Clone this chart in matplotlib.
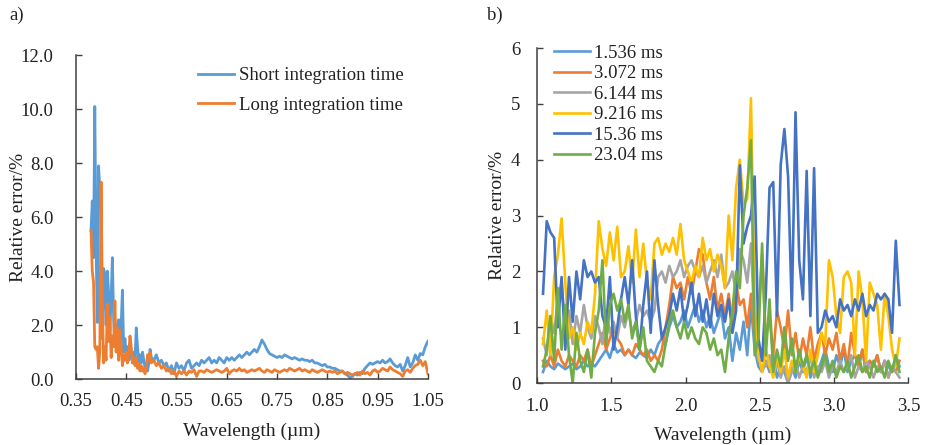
import numpy as np
import matplotlib
matplotlib.use("Agg")
import matplotlib.pyplot as plt

plt.rcParams["font.family"] = ["Liberation Serif", "DejaVu Serif"]
plt.rcParams["font.size"] = 13.5

# ---- panel a: short vs long integration time (VNIR) ----
wl_a = np.concatenate([np.linspace(0.38, 0.50, 49), np.linspace(0.505, 1.05, 110)])

short_head = [5.5, 6.6, 4.5, 10.1, 5.0, 2.1, 7.9, 7.0, 6.3, 1.5,
              4.1, 3.9, 2.0, 4.0, 3.2, 1.8, 3.0, 4.5, 2.2, 1.3,
              2.0, 1.4, 2.2, 1.0, 2.0, 3.3, 1.0, 1.5, 0.9, 1.2,
              0.7, 1.0, 0.9, 0.6, 1.0, 0.7, 1.9, 1.2, 0.6, 0.9,
              0.6, 1.0, 0.7, 0.4, 0.6, 0.3, 0.6, 1.1, 0.8]
short_tail = [0.7, 0.9, 0.6, 0.7, 0.5, 0.6, 0.3, 0.5, 0.2, 0.6,
              0.4, 0.5, 0.3, 0.6, 0.7, 0.4, 0.5, 0.6, 0.5, 0.7,
              0.6, 0.7, 0.8, 0.6, 0.7, 0.6, 0.8, 0.7, 0.6, 0.8,
              0.7, 0.8, 0.7, 0.8, 0.9, 0.8, 0.9, 1.0, 0.9, 1.0,
              1.1, 1.0, 1.2, 1.45, 1.3, 1.1, 0.95, 0.9, 0.85, 0.8,
              0.85, 0.8, 0.9, 0.85, 0.8, 0.75, 0.8, 0.75, 0.7, 0.75,
              0.7, 0.7, 0.65, 0.7, 0.6, 0.6, 0.55, 0.5, 0.55, 0.45,
              0.45, 0.4, 0.4, 0.35, 0.3, 0.3, 0.2, 0.15, 0.05, 0.1,
              0.2, 0.15, 0.25, 0.2, 0.4, 0.5, 0.6, 0.55, 0.6, 0.65,
              0.6, 0.7, 0.6, 0.65, 0.75, 0.6, 0.5, 0.45, 0.55, 0.3,
              0.5, 0.8, 0.45, 0.6, 0.9, 0.7, 0.95, 0.9, 1.2, 1.4]

long_head = [5.5, 4.0, 3.6, 1.2, 1.1, 1.2, 0.4, 1.0, 7.3, 3.0,
             0.6, 1.2, 0.7, 2.8, 1.4, 2.3, 0.8, 1.6, 1.2, 2.9,
             1.0, 1.9, 0.7, 1.8, 1.2, 0.5, 0.9, 0.7, 1.0, 0.6,
             0.9, 1.6, 1.2, 0.6, 0.8, 0.5, 0.8, 0.4, 0.6, 0.3,
             0.5, 0.3, 0.4, 0.2, 0.5, 0.9, 0.7, 1.0, 0.6]
long_tail = [0.7, 0.5, 0.6, 0.4, 0.5, 0.3, 0.4, 0.2, 0.3, 0.1,
             0.3, 0.2, 0.3, 0.15, 0.3, 0.25, 0.35, 0.1, 0.3, 0.3,
             0.25, 0.35, 0.3, 0.25, 0.3, 0.35, 0.3, 0.25, 0.3, 0.4,
             0.2, 0.3, 0.35, 0.3, 0.4, 0.3, 0.35, 0.25, 0.3, 0.35,
             0.3, 0.35, 0.4, 0.3, 0.25, 0.35, 0.3, 0.25, 0.35, 0.3,
             0.25, 0.3, 0.35, 0.3, 0.4, 0.35, 0.3, 0.35, 0.4, 0.3,
             0.35, 0.3, 0.25, 0.35, 0.3, 0.25, 0.3, 0.35, 0.3, 0.25,
             0.3, 0.25, 0.3, 0.2, 0.25, 0.3, 0.2, 0.25, 0.2, 0.15,
             0.2, 0.25, 0.15, 0.3, 0.2, 0.25, 0.15, 0.3, 0.35, 0.25,
             0.3, 0.4, 0.35, 0.3, 0.45, 0.35, 0.3, 0.25, 0.2, 0.1,
             0.3, 0.35, 0.25, 0.4, 0.5, 0.55, 0.7, 0.5, 0.65, 0.2]

short_err = short_head + short_tail
long_err = long_head + long_tail

# ---- panel b: six integration times (SWIR) ----
wl_b = np.linspace(1.04, 3.44, 97)

err_1536 = [0.2, 0.4, 0.3, 0.25, 0.35, 0.3, 0.25, 0.3, 0.35, 0.25,
            0.3, 0.4, 0.3, 0.35, 0.3, 0.4, 0.5, 0.6, 0.45, 0.7,
            0.55, 0.6, 0.5, 0.6, 0.5, 0.45, 0.55, 0.5, 0.45, 0.6,
            0.5, 0.7, 0.8, 0.7, 1.0, 1.2, 1.0, 1.1, 1.3, 1.0,
            1.2, 1.4, 1.1, 1.3, 1.0, 1.2, 0.9, 1.1, 1.3, 0.8,
            1.0, 0.4, 0.9, 0.6, 1.1, 0.5, 1.4, 0.6, 0.3, 0.2,
            0.4, 0.2, 0.5, 0.1, 0.3, 0.2, 0.0, 0.3, 0.1, 0.4,
            0.2, 0.5, 0.1, 0.3, 0.2, 0.4, 0.6, 0.3, 0.2, 0.5,
            0.3, 0.6, 0.2, 0.4, 0.5, 0.3, 0.6, 0.2, 0.4, 0.3,
            0.5, 0.2, 0.4, 0.3, 0.2, 0.5, 0.3]
err_3072 = [0.4, 0.3, 0.5, 0.3, 0.6, 0.4, 0.3, 0.5, 0.4, 0.3,
            0.5, 0.4, 0.6, 0.3, 0.5, 0.7, 0.9, 0.6, 0.8, 1.0,
            0.8, 0.7, 0.5, 0.6, 0.5, 0.7, 0.6, 0.5, 0.6, 0.4,
            0.5, 0.4, 0.6, 1.0, 1.4, 1.9, 1.7, 1.8, 1.5, 1.9,
            1.6, 2.0, 2.4, 2.3, 1.8, 1.5, 1.9, 1.3, 1.6, 1.2,
            1.6, 1.0, 1.8, 1.4, 1.5, 1.0, 1.6, 0.8, 1.2, 2.3,
            0.8, 1.2, 0.5, 1.3, 1.0, 0.6, 1.3, 0.5, 0.9, 0.4,
            0.8, 0.5, 1.0, 0.4, 0.7, 0.9, 0.5, 0.8, 0.6, 0.9,
            0.4, 0.7, 0.3, 0.9, 0.5, 0.3, 0.6, 0.2, 0.4, 0.3,
            0.5, 0.2, 0.4, 0.1, 0.3, 0.2, 0.4]
err_6144 = [0.8, 0.5, 1.2, 0.9, 1.5, 1.8, 1.0, 1.3, 0.7, 1.2,
            0.9, 1.4, 1.0, 0.8, 1.2, 1.0, 0.7, 1.3, 0.9, 1.1,
            0.8, 1.2, 1.0, 1.3, 0.9, 1.1, 1.4, 1.2, 1.3, 1.1,
            1.3, 1.9, 2.0, 1.8, 2.1, 1.9, 2.0, 2.2, 1.9, 2.1,
            2.2, 2.0, 1.9, 2.1, 1.8, 2.0, 2.2, 1.9, 2.3, 1.7,
            1.8, 2.0, 1.6, 2.4, 2.2, 1.8, 2.5, 1.0, 0.4, 0.6,
            0.3, 0.5, 0.2, 0.4, 0.1, 0.3, 0.0, 0.2, 0.4, 0.1,
            0.3, 0.2, 0.5, 0.1, 0.3, 0.2, 0.4, 0.1, 0.3, 0.2,
            0.4, 0.2, 0.3, 0.5, 0.1, 0.3, 0.2, 0.4, 0.3, 0.1,
            0.3, 0.2, 0.4, 0.1, 0.3, 0.2, 0.1]
err_9216 = [0.7, 1.3, 0.5, 1.9, 2.3, 2.95, 1.8, 0.8, 1.0, 0.6,
            0.9, 0.7, 1.1, 0.9, 1.6, 2.9, 2.4, 2.1, 2.7, 2.2,
            2.8, 1.9, 2.0, 2.45, 1.8, 2.75, 1.9, 2.5, 1.8, 1.5,
            2.5, 2.6, 2.3, 2.5, 2.35, 2.6, 2.3, 2.85, 2.2, 2.0,
            1.8, 2.1, 1.9, 2.6, 2.2, 2.4, 2.0, 2.3, 2.1, 1.7,
            3.0, 2.2, 3.5, 4.0, 3.2, 3.3, 5.1, 1.4, 0.5, 0.2,
            0.6, 0.3, 0.1, 0.5, 0.2, 0.6, 0.1, 0.4, 0.2, 0.5,
            0.3, 0.1, 0.6, 0.2, 0.5, 0.9, 0.7, 2.2, 1.9, 1.2,
            0.9, 1.9, 2.0, 1.8, 0.5, 2.0, 1.5, 0.4, 1.8, 1.6,
            1.4, 0.6, 1.6, 1.2, 0.6, 0.3, 0.8]
err_1536b = [1.6, 2.9, 2.7, 2.6, 1.0, 1.9, 0.6, 1.9, 1.1, 2.0,
             1.5, 2.2, 1.9, 2.0, 1.8, 1.9, 1.2, 1.0, 1.9, 0.6,
             1.0, 1.5, 1.9, 1.4, 2.2, 1.2, 0.6, 1.4, 2.0, 0.9,
             2.2, 1.4, 0.8, 1.0, 1.2, 1.6, 1.3, 1.7, 1.1, 1.4,
             1.8, 1.2, 1.6, 1.1, 1.5, 1.0, 1.6, 1.2, 1.4, 1.1,
             1.5, 0.9, 1.3, 3.9, 2.5, 2.8, 3.0, 3.7, 0.8, 0.4,
             1.6, 3.5, 3.6, 1.2, 3.9, 4.55, 3.7, 1.3, 4.85, 2.2,
             1.5, 3.8, 1.2, 3.85, 0.9, 1.0, 1.3, 1.1, 1.2, 1.0,
             1.5, 1.3, 1.4, 1.2, 1.5, 1.3, 1.6, 1.2, 1.4, 1.3,
             1.6, 1.5, 1.6, 1.5, 0.9, 2.55, 1.4]
err_2304 = [0.3, 0.6, 1.2, 0.4, 1.7, 0.6, 1.4, 0.5, 0.0, 0.9,
            0.4, 0.2, 0.6, 0.1, 0.9, 1.3, 2.2, 0.7, 1.4, 1.6,
            1.3, 1.5, 1.1, 1.4, 0.8, 1.1, 0.6, 1.0, 0.4, 0.3,
            0.2, 0.4, 0.3, 0.7, 1.1, 1.3, 1.0, 0.8, 1.1, 0.8,
            1.0, 0.8, 0.7, 1.0, 0.9, 0.6, 0.8, 0.5, 0.6, 0.2,
            0.8, 1.3, 2.0, 1.7, 3.0, 3.5, 4.35, 0.5, 0.8, 2.5,
            0.5, 1.5, 0.2, 0.6, 0.3, 1.0, 0.4, 0.8, 0.2, 0.6,
            0.3, 0.5, 0.2, 0.4, 0.1, 0.3, 0.5, 0.2, 0.4, 0.1,
            0.3, 0.2, 0.4, 0.1, 0.3, 0.5, 0.2, 0.3, 0.1, 0.4,
            0.2, 0.3, 0.1, 0.4, 0.2, 0.5, 0.2]

labels_b = ["1.536 ms", "3.072 ms", "6.144 ms", "9.216 ms", "15.36 ms", "23.04 ms"]
series_b = [err_1536, err_3072, err_6144, err_9216, err_1536b, err_2304]
colors_b = ["#5B9BD5", "#ED7D31", "#A5A5A5", "#FFC000", "#4472C4", "#70AD47"]

axis_col = "#404040"
text_col = "#222222"


def style_axes(ax, ypad, xpad):
    for s in ["top", "right"]:
        ax.spines[s].set_visible(False)
    for s in ["left", "bottom"]:
        ax.spines[s].set_color(axis_col)
        ax.spines[s].set_linewidth(1.1)
    ax.tick_params(direction="in", length=4, width=1.0, color=axis_col,
                   labelsize=13.5, labelcolor=text_col)
    ax.tick_params(axis="y", pad=ypad)
    ax.tick_params(axis="x", pad=xpad)


fig = plt.figure(figsize=(9.26, 4.45), dpi=100)

ax1 = fig.add_axes([0.082, 0.148, 0.380, 0.728])
ax1.plot(wl_a, short_err, color="#5B9BD5", lw=2.0, label="Short integration time")
ax1.plot(wl_a, long_err, color="#ED7D31", lw=2.0, label="Long integration time")
ax1.set_xlim(0.35, 1.05)
ax1.set_ylim(0, 12)
ax1.set_xticks(np.arange(0.35, 1.051, 0.1))
ax1.set_xticklabels(["%.2f" % t for t in np.arange(0.35, 1.051, 0.1)])
ax1.set_yticks(np.arange(0, 12.1, 2))
ax1.set_yticklabels(["%.1f" % t for t in np.arange(0, 12.1, 2)])
style_axes(ax1, ypad=16, xpad=10)
ax1.set_xlabel("Wavelength (µm)", fontsize=14, labelpad=9, color=text_col)
ax1.set_ylabel("Relative error/%", fontsize=14, color=text_col)
ax1.yaxis.set_label_coords(-0.14, 0.5)
ax1.legend(loc="upper left", bbox_to_anchor=(0.30, 1.015), frameon=False,
           fontsize=13.5, handlelength=1.9, handletextpad=0.25, labelspacing=0.65,
           labelcolor=text_col)
fig.text(0.010, 0.966, "a)", fontsize=13.5, va="center", color=text_col)

ax2 = fig.add_axes([0.580, 0.139, 0.401, 0.753])
for y, c, lab in zip(series_b, colors_b, labels_b):
    ax2.plot(wl_b, y, color=c, lw=1.9, label=lab)
ax2.set_xlim(1.0, 3.5)
ax2.set_ylim(0, 6)
ax2.set_xticks(np.arange(1.0, 3.51, 0.5))
ax2.set_xticklabels(["%.1f" % t for t in np.arange(1.0, 3.51, 0.5)])
ax2.set_yticks(range(0, 7))
style_axes(ax2, ypad=12, xpad=11)
ax2.set_xlabel("Wavelength (µm)", fontsize=14, labelpad=8, color=text_col)
ax2.set_ylabel("Relative error/%", fontsize=14, color=text_col)
ax2.yaxis.set_label_coords(-0.083, 0.5)
ax2.legend(loc="upper left", bbox_to_anchor=(0.0, 1.06), frameon=False,
           fontsize=13.5, handlelength=1.9, handletextpad=0.25, labelspacing=0.18,
           labelcolor=text_col)
fig.text(0.526, 0.966, "b)", fontsize=13.5, va="center", color=text_col)

fig.savefig("out.png", dpi=100)
